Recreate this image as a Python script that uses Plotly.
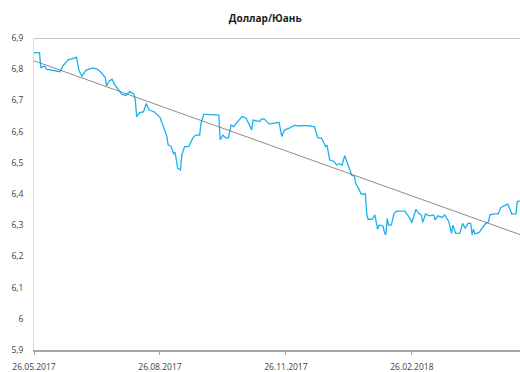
import plotly.graph_objects as go

# USD/CNY exchange rate, May 2017 - May 2018
dates = [
    "2017-05-26", "2017-05-30", "2017-05-31", "2017-06-03", "2017-06-04", "2017-06-10",
    "2017-06-14", "2017-06-16", "2017-06-20", "2017-06-26", "2017-06-28", "2017-06-30",
    "2017-07-03", "2017-07-08", "2017-07-11", "2017-07-13", "2017-07-17", "2017-07-18",
    "2017-07-20", "2017-07-22", "2017-07-24", "2017-07-27", "2017-07-29", "2017-08-01",
    "2017-08-04", "2017-08-07", "2017-08-08", "2017-08-09", "2017-08-11", "2017-08-14",
    "2017-08-16", "2017-08-18", "2017-08-22", "2017-08-26", "2017-08-28", "2017-08-30",
    "2017-08-31", "2017-09-01", "2017-09-03", "2017-09-05", "2017-09-06", "2017-09-08",
    "2017-09-10", "2017-09-11", "2017-09-13", "2017-09-16", "2017-09-19", "2017-09-21",
    "2017-09-24", "2017-09-25", "2017-09-27", "2017-09-28", "2017-10-08", "2017-10-09",
    "2017-10-11", "2017-10-13", "2017-10-15", "2017-10-17", "2017-10-19", "2017-10-20",
    "2017-10-23", "2017-10-25", "2017-10-28", "2017-10-30", "2017-11-01", "2017-11-02",
    "2017-11-07", "2017-11-08", "2017-11-10", "2017-11-14", "2017-11-18", "2017-11-21",
    "2017-11-23", "2017-11-25", "2017-11-28", "2017-12-02", "2017-12-06", "2017-12-09",
    "2017-12-13", "2017-12-17", "2017-12-19", "2017-12-20", "2017-12-22", "2017-12-25",
    "2017-12-26", "2017-12-28", "2017-12-31", "2018-01-02", "2018-01-04", "2018-01-06",
    "2018-01-08", "2018-01-11", "2018-01-13", "2018-01-15", "2018-01-16", "2018-01-18",
    "2018-01-20", "2018-01-23", "2018-01-24", "2018-01-25", "2018-01-28", "2018-01-30",
    "2018-01-31", "2018-02-01", "2018-02-02", "2018-02-03", "2018-02-05", "2018-02-06",
    "2018-02-07", "2018-02-08", "2018-02-09", "2018-02-11", "2018-02-13", "2018-02-15",
    "2018-02-21", "2018-02-23", "2018-02-25", "2018-02-26", "2018-02-28", "2018-03-01",
    "2018-03-03", "2018-03-05", "2018-03-06", "2018-03-08", "2018-03-11", "2018-03-14",
    "2018-03-15", "2018-03-17", "2018-03-20", "2018-03-22", "2018-03-25", "2018-03-27",
    "2018-03-28", "2018-03-30", "2018-04-02", "2018-04-04", "2018-04-06", "2018-04-08",
    "2018-04-10", "2018-04-11", "2018-04-12", "2018-04-13", "2018-04-16", "2018-04-18",
    "2018-04-20", "2018-04-21", "2018-04-23", "2018-04-24", "2018-04-27", "2018-04-30",
    "2018-05-02", "2018-05-04", "2018-05-06", "2018-05-07", "2018-05-10", "2018-05-13",
    "2018-05-14", "2018-05-16",
]
rates = [
    6.853, 6.853, 6.805, 6.810, 6.800, 6.795,
    6.792, 6.810, 6.830, 6.838, 6.794, 6.778,
    6.797, 6.804, 6.800, 6.794, 6.774, 6.746,
    6.762, 6.768, 6.750, 6.733, 6.720, 6.716,
    6.728, 6.720, 6.700, 6.648, 6.660, 6.664,
    6.690, 6.670, 6.663, 6.646, 6.624, 6.600,
    6.586, 6.557, 6.554, 6.528, 6.534, 6.482,
    6.477, 6.525, 6.552, 6.552, 6.579, 6.589,
    6.589, 6.627, 6.655, 6.655, 6.653, 6.573,
    6.589, 6.580, 6.580, 6.621, 6.616, 6.623,
    6.637, 6.648, 6.643, 6.624, 6.605, 6.637,
    6.632, 6.640, 6.641, 6.624, 6.627, 6.630,
    6.584, 6.605, 6.610, 6.620, 6.618, 6.620,
    6.618, 6.615, 6.583, 6.579, 6.580, 6.552,
    6.557, 6.509, 6.505, 6.493, 6.497, 6.493,
    6.523, 6.488, 6.461, 6.457, 6.434, 6.418,
    6.400, 6.400, 6.338, 6.319, 6.319, 6.333,
    6.306, 6.287, 6.300, 6.300, 6.297, 6.276,
    6.269, 6.322, 6.300, 6.300, 6.338, 6.345,
    6.345, 6.333, 6.319, 6.308, 6.336, 6.351,
    6.338, 6.333, 6.309, 6.336, 6.330, 6.333,
    6.317, 6.330, 6.325, 6.333, 6.311, 6.274,
    6.300, 6.274, 6.274, 6.306, 6.290, 6.306,
    6.306, 6.269, 6.287, 6.272, 6.276, 6.287,
    6.300, 6.306, 6.311, 6.333, 6.336, 6.336,
    6.357, 6.360, 6.365, 6.368, 6.336, 6.336,
    6.375, 6.378,
]

# Linear trend over the period
trend_dates = ["2017-05-26", "2018-05-16"]
trend_values = [6.827, 6.270]

x_tick_vals = ["2017-05-26", "2017-08-26", "2017-11-26", "2018-02-26"]
x_tick_text = ["26.05.2017", "26.08.2017", "26.11.2017", "26.02.2018"]
y_tick_vals = [5.9, 6.0, 6.1, 6.2, 6.3, 6.4, 6.5, 6.6, 6.7, 6.8, 6.9]
y_tick_text = ["5,9", "6", "6,1", "6,2", "6,3", "6,4", "6,5", "6,6", "6,7", "6,8", "6,9"]

fig = go.Figure()
fig.add_trace(go.Scatter(
    x=dates, y=rates, mode="lines",
    line=dict(color="#1bb1ef", width=1.3),
    hoverinfo="x+y", showlegend=False,
))
fig.add_trace(go.Scatter(
    x=trend_dates, y=trend_values, mode="lines",
    line=dict(color="#6e6e6e", width=0.8),
    hoverinfo="skip", showlegend=False,
))

font_family = "Open Sans, Liberation Sans, sans-serif"

fig.update_layout(
    width=520, height=372,
    margin=dict(l=34, r=0, t=38, b=22),
    paper_bgcolor="white", plot_bgcolor="white",
    font=dict(family=font_family, size=9, color="#404040"),
    title=dict(
        text="<b>Доллар/Юань</b>",
        x=0.51, xanchor="center", y=0.949, yanchor="middle",
        font=dict(family=font_family, size=10, color="#1a1a1a"),
    ),
    xaxis=dict(
        type="date",
        range=["2017-05-26", "2018-05-16"],
        tickvals=x_tick_vals, ticktext=x_tick_text,
        showgrid=False, zeroline=False,
        showline=True, linecolor="#a6a6a6", linewidth=1.5,
        ticks="outside", ticklen=3, tickcolor="#a6a6a6", tickwidth=1,
        ticklabelstandoff=5,
        tickfont=dict(size=8.5, color="#404040"),
    ),
    yaxis=dict(
        range=[5.9, 6.9],
        tickvals=y_tick_vals, ticktext=y_tick_text,
        showgrid=False, zeroline=False,
        showline=True, linecolor="#d9d9d9", linewidth=1,
        ticks="", ticklabelstandoff=8,
        tickfont=dict(size=8.5, color="#404040"),
    ),
    shapes=[dict(
        type="line", xref="paper", yref="y",
        x0=0, x1=1, y0=6.9, y1=6.9,
        line=dict(color="#b3b3b3", width=1.3),
    )],
)

fig.write_html("out.html")
